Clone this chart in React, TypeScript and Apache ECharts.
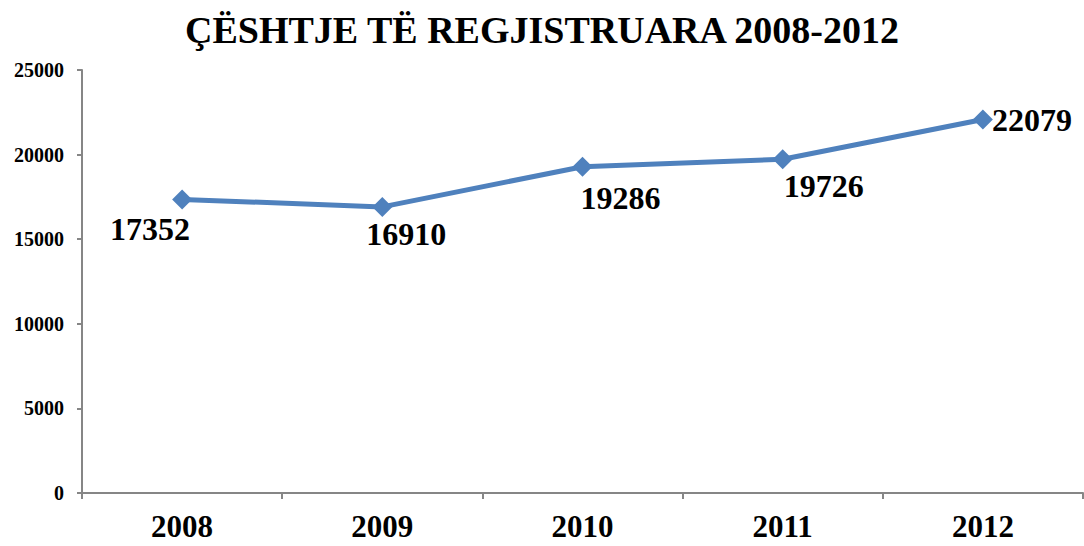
import React, { useEffect, useRef } from "react";
import * as echarts from "echarts";

const years = ["2008", "2009", "2010", "2011", "2012"];
const cases = [17352, 16910, 19286, 19726, 22079];
const labelOffsets: [number, number][] = [[-32, 30], [24, 27], [38, 31], [41, 27], [49, 1]];
const yTicks = { min: 0, max: 25000, interval: 5000 };
const titleText = "ÇËSHTJE TË REGJISTRUARA 2008-2012";

const FONT = "'Liberation Serif', 'Times New Roman', serif";

export default function App() {
  const ref = useRef<HTMLDivElement>(null);
  useEffect(() => {
    const chart = echarts.init(ref.current!, null, { renderer: "svg" });
    chart.setOption({
      animation: false,
      title: {
        text: titleText,
        left: "center",
        top: 6,
        textStyle: { fontFamily: FONT, fontWeight: "bold", fontSize: 38, color: "#000" },
      },
      grid: { left: 82, right: 1, top: 70, bottom: 53 },
      xAxis: {
        type: "category",
        data: years,
        boundaryGap: true,
        axisLine: { lineStyle: { color: "#868686", width: 2 } },
        axisTick: { show: true, length: 6, lineStyle: { color: "#868686", width: 2 } },
        axisLabel: { fontFamily: FONT, fontWeight: "bold", fontSize: 31, color: "#000", margin: 18 },
        splitLine: { show: false },
      },
      yAxis: {
        type: "value",
        min: yTicks.min,
        max: yTicks.max,
        interval: yTicks.interval,
        axisLine: { show: true, lineStyle: { color: "#868686", width: 2 } },
        axisTick: { show: true, length: 5, lineStyle: { color: "#868686", width: 2 } },
        axisLabel: {
          fontFamily: FONT,
          fontWeight: "bold",
          fontSize: 20,
          color: "#000",
          margin: 18,
          formatter: (v: number) => String(v),
        },
        splitLine: { show: false },
      },
      series: [
        {
          type: "line",
          data: cases.map((v, i) => ({
            value: v,
            label: {
              show: true,
              position: "inside",
              offset: labelOffsets[i],
              align: "center",
              verticalAlign: "middle",
            },
          })),
          symbol: "diamond",
          symbolSize: 20,
          lineStyle: { color: "#4F81BD", width: 5 },
          itemStyle: { color: "#4F81BD" },
          label: {
            fontFamily: FONT,
            fontWeight: "bold",
            fontSize: 32,
            color: "#000",
          },
        },
      ],
    });
    return () => chart.dispose();
  }, []);
  return <div ref={ref} style={{ width: 1084, height: 546, position: "absolute", left: 0, top: 0 }} />;
}
